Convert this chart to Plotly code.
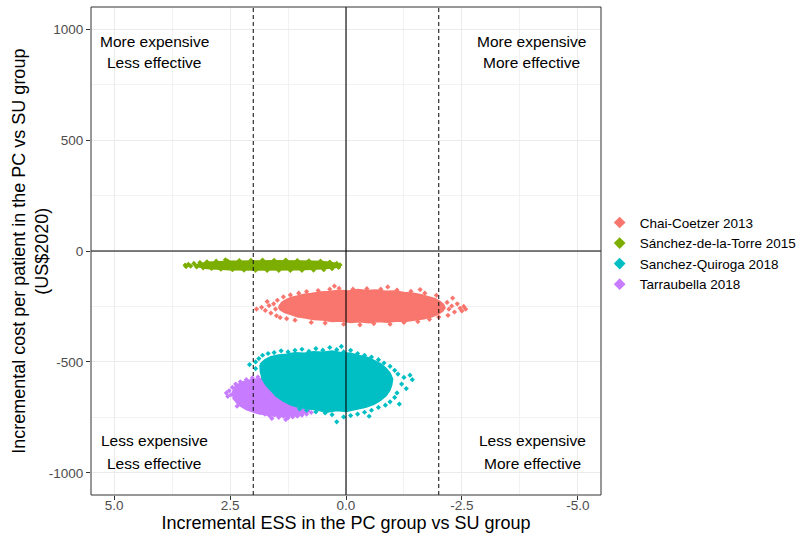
import plotly.graph_objects as go

# ---------------- data ----------------
studies = ["Chai-Coetzer 2013", "Sánchez-de-la-Torre 2015", "Sanchez-Quiroga 2018", "Tarraubella 2018"]
colors = ["#F8766D", "#7CAE00", "#00BFC4", "#C77CFF"]

# dense core outlines of each simulation cloud (incremental ESS, incremental cost)
chai_core_x = [1.45, 1.38, 1.30, 1.18, 1.05, 0.90, 0.75, 0.55, 0.35, 0.15, -0.05, -0.25, -0.45, -0.65, -0.85, -1.05, -1.25, -1.45, -1.62, -1.78, -1.92, -2.02, -2.10, -2.13,
               -2.08, -1.98, -1.85, -1.68, -1.50, -1.30, -1.10, -0.90, -0.70, -0.50, -0.30, -0.10, 0.10, 0.30, 0.50, 0.70, 0.90, 1.05, 1.20, 1.32, 1.42]
chai_core_y = [-252, -232, -222, -210, -204, -196, -193, -186, -184, -178, -181, -175, -179, -177, -183, -181, -188, -191, -198, -206, -216, -228, -242, -256,
               -270, -284, -296, -304, -310, -316, -314, -320, -317, -322, -318, -321, -315, -317, -310, -308, -300, -295, -284, -276, -264]

sdlt_core_x = [3.28, 3.0, 2.5, 2.0, 1.5, 1.0, 0.5, 0.22, 0.14, 0.22, 0.5, 1.0, 1.5, 2.0, 2.5, 3.0]
sdlt_core_y = [-65, -52, -47, -45, -45, -46, -49, -56, -64, -73, -79, -83, -85, -85, -83, -78]

sq_core_x = [1.85, 1.75, 1.62, 1.45, 1.28, 1.10, 0.90, 0.70, 0.50, 0.30, 0.10, -0.10, -0.28, -0.45, -0.60, -0.75, -0.86, -0.95, -1.00, -0.98, -0.94, -0.86, -0.74, -0.60, -0.42, -0.22,
             0.00, 0.20, 0.42, 0.62, 0.82, 1.00, 1.18, 1.35, 1.50, 1.62, 1.72, 1.80, 1.84]
sq_core_y = [-512, -492, -478, -470, -466, -460, -462, -455, -458, -452, -460, -462, -472, -480, -494, -510, -530, -552, -578, -604, -628, -652, -672, -690, -704, -714,
             -722, -718, -726, -716, -712, -705, -694, -676, -655, -630, -605, -578, -545]

tar_core_x = [2.45, 2.38, 2.22, 2.02, 1.8, 1.5, 1.2, 0.9, 0.75, 0.8, 1.0, 1.3, 1.6, 1.9, 2.15, 2.32, 2.42]
tar_core_y = [-640, -608, -590, -580, -576, -583, -600, -630, -680, -722, -738, -745, -742, -732, -714, -692, -666]

# scattered outlying simulation points
chai_x = [1.93, 1.82, 1.74, 1.66, 1.62, 1.56, 1.52, 1.50, 1.48, 1.42, 1.35, 1.28, 1.20, 1.10, 1.02, 0.85, 0.75, 0.60, 0.45, 0.35, 0.15, 0.05, -0.15, -0.30, -0.45, -0.60, -0.75, -0.95, -1.10, -1.25, -1.40, -1.55, -1.70, -1.80, -1.95, -2.00,
          -2.18, -2.22, -2.28, -2.34, -2.40, -2.46, -2.54, -2.50, -2.30, -2.20, -2.58, -1.60, 0.25, -0.90, 1.70]
chai_y = [-262, -254, -268, -246, -280, -238, -262, -292, -222, -300, -207, -305, -198, -312, -190, -183, -322, -178, -325, -172, -168, -330, -172, -333, -170, -327, -172, -330, -176, -322, -182, -318, -190, -308, -200, -298,
          -232, -262, -248, -275, -238, -258, -250, -270, -212, -290, -262, -174, -158, -162, -228]

sdlt_x = [3.47, 3.40, 3.35, 3.28, 3.22, 3.15, 3.08, 3.00, 2.90, 2.80, 2.70, 2.55, 2.45, 2.30, 2.20, 2.05, 1.95, 1.80, 1.70, 1.55, 1.45, 1.30, 1.20, 1.05, 0.95, 0.80, 0.70, 0.55, 0.48, 0.35, 0.30, 0.20, 0.16, 0.13, 3.45, 2.60]
sdlt_y = [-64, -60, -68, -56, -72, -52, -76, -49, -79, -46, -82, -45, -84, -43, -86, -42, -87, -41, -88, -42, -88, -41, -88, -43, -87, -44, -86, -46, -84, -50, -80, -56, -74, -63, -70, -40]

sq_x = [2.08, 1.95, 1.88, 1.80, 1.68, 1.55, 1.40, 1.25, 1.10, 0.95, 0.80, 0.65, 0.50, 0.35, 0.20, 0.05, -0.10, -0.25, -0.40, -0.55, -0.70, -0.82, -0.95, -1.05, -1.12, -1.25, -1.38, -1.43, -1.20, -1.30, -1.10, -1.05, -0.95, -0.85, -0.70, -0.55, -0.40, -0.25, -0.10, 0.05, 0.20, 0.30, 0.45, 0.65, 0.85, 1.00, -0.50, -1.15, 0.10, 1.95]
sq_y = [-512, -500, -485, -470, -462, -458, -450, -455, -448, -443, -452, -440, -447, -435, -445, -455, -448, -462, -470, -478, -490, -505, -520, -538, -555, -570, -560, -580, -600, -620, -640, -660, -680, -695, -705, -718, -727, -735, -742, -748, -770, -738, -730, -725, -718, -712, -745, -690, -430, -530]

tar_x = [2.52, 2.48, 2.45, 2.40, 2.38, 2.32, 2.28, 2.22, 2.15, 2.10, 2.02, 1.98, 1.90, 1.85, 1.75, 1.65, 1.55, 1.45, 1.35, 1.25, 1.15, 1.05, 0.95, 0.85, 0.75, 2.55, 2.35, 1.60, 2.58, 1.30]
tar_y = [-630, -648, -615, -665, -600, -680, -590, -695, -580, -708, -572, -720, -568, -728, -735, -742, -738, -750, -745, -752, -748, -745, -740, -735, -728, -655, -700, -755, -640, -760]

x_tick_vals = [5.0, 2.5, 0.0, -2.5, -5.0]
x_tick_text = ["5.0", "2.5", "0.0", "-2.5", "-5.0"]
y_tick_vals = [1000, 500, 0, -500, -1000]
y_tick_text = ["1000", "500", "0", "-500", "-1000"]
threshold = [2, -2]

quadrants = [
    (4.13, "More expensive", "Less effective", 945, 850),
    (-4.0, "More expensive", "More effective", 945, 850),
    (4.13, "Less expensive", "Less effective", -855, -958),
    (-4.02, "Less expensive", "More effective", -855, -958),
]

FONT = "Liberation Sans, Arial, sans-serif"

# ---------------- figure ----------------
fig = go.Figure()

clouds = [
    (0, chai_core_x, chai_core_y, chai_x, chai_y),
    (1, sdlt_core_x, sdlt_core_y, sdlt_x, sdlt_y),
    (3, tar_core_x, tar_core_y, tar_x, tar_y),
    (2, sq_core_x, sq_core_y, sq_x, sq_y),
]
for idx, cx, cy, px, py in clouds:
    col = colors[idx]
    fig.add_trace(go.Scatter(x=cx + [cx[0]], y=cy + [cy[0]], mode="lines", fill="toself",
                             fillcolor=col, line=dict(color=col, width=2),
                             showlegend=False, hoverinfo="skip"))
    fig.add_trace(go.Scatter(x=px, y=py, mode="markers",
                             marker=dict(symbol="diamond", size=4, color=col),
                             showlegend=False, name=studies[idx]))

for i, s in enumerate(studies):
    fig.add_trace(go.Scatter(x=[None], y=[None], mode="markers", name=s,
                             marker=dict(symbol="diamond", size=9, color=colors[i]),
                             legendrank=i + 1, showlegend=True))

shapes = []
for t in threshold:
    shapes.append(dict(type="line", xref="x", yref="paper", x0=t, x1=t, y0=0, y1=1,
                       line=dict(color="#1a1a1a", width=1.1, dash="4px,3px"), layer="above"))
shapes.append(dict(type="line", xref="x", yref="paper", x0=0, x1=0, y0=0, y1=1,
                   line=dict(color="black", width=1.1), layer="above"))
shapes.append(dict(type="line", xref="paper", yref="y", x0=0, x1=1, y0=0, y1=0,
                   line=dict(color="black", width=1.1), layer="above"))
shapes.append(dict(type="rect", xref="paper", yref="paper", x0=0, x1=1, y0=0, y1=1,
                   line=dict(color="#333333", width=1), layer="above"))

annotations = []
for qx, l1, l2, y1, y2 in quadrants:
    annotations.append(dict(x=qx, y=y1, xref="x", yref="y", text=l1, showarrow=False,
                            font=dict(size=15.5, color="black", family=FONT)))
    annotations.append(dict(x=qx, y=y2, xref="x", yref="y", text=l2, showarrow=False,
                            font=dict(size=15.5, color="black", family=FONT)))
annotations.append(dict(x=-0.12, y=0.5, xref="paper", yref="paper",
                        text="Incremental cost per patient in the PC vs SU group<br>(US$2020)",
                        textangle=-90, showarrow=False, xanchor="center", yanchor="middle",
                        font=dict(size=18, color="black", family=FONT)))

fig.update_layout(
    width=806, height=541,
    margin=dict(l=91, r=205, t=7, b=46, autoexpand=False),
    paper_bgcolor="white", plot_bgcolor="white",
    font=dict(family=FONT),
    shapes=shapes, annotations=annotations,
    legend=dict(xref="container", yref="container", x=0.744, xanchor="left",
                y=0.617, yanchor="top",
                font=dict(size=13.5, color="black", family=FONT),
                bgcolor="rgba(0,0,0,0)", itemwidth=30, tracegroupgap=0),
    xaxis=dict(range=[5.5, -5.5], tickvals=x_tick_vals, ticktext=x_tick_text,
               showgrid=True, gridcolor="#EBEBEB", gridwidth=1.1, zeroline=False,
               ticks="outside", ticklen=4, tickcolor="#333333", tickwidth=1,
               ticklabelstandoff=-6,
               tickfont=dict(size=13.5, color="#4D4D4D", family=FONT),
               minor=dict(tickmode="linear", tick0=1.25, dtick=2.5, showgrid=True,
                          gridcolor="#F2F2F2", gridwidth=0.6, ticks=""),
               title=dict(text="Incremental ESS in the PC group vs SU group",
                          font=dict(size=18, color="black", family=FONT), standoff=2)),
    yaxis=dict(range=[-1100, 1100], tickvals=y_tick_vals, ticktext=y_tick_text,
               showgrid=True, gridcolor="#EBEBEB", gridwidth=1.1, zeroline=False,
               ticks="outside", ticklen=4, tickcolor="#333333", tickwidth=1,
               tickfont=dict(size=13.5, color="#4D4D4D", family=FONT),
               minor=dict(tickmode="linear", tick0=250, dtick=500, showgrid=True,
                          gridcolor="#F2F2F2", gridwidth=0.6, ticks="")),
)

fig.write_html("out.html")
